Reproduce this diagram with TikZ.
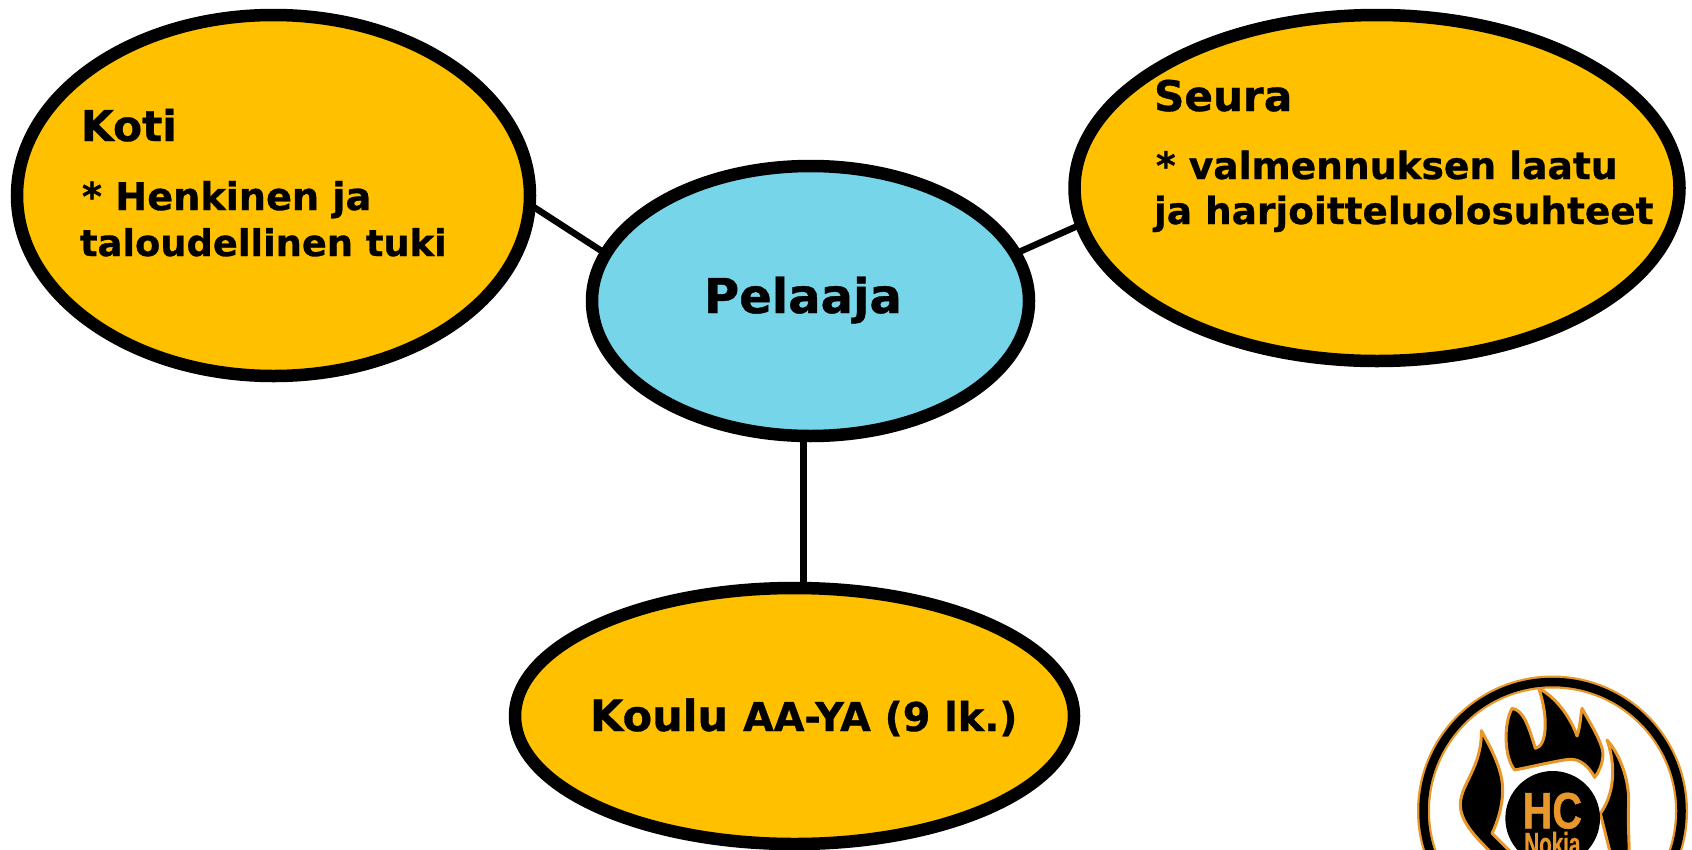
\documentclass[tikz,border=0pt]{standalone}
\usepackage{fontspec}
\usepackage{graphicx}
\setmainfont{DejaVu Sans}[BoldFeatures={FakeBold=0.8}]
\newfontfamily\logofont{Liberation Sans}[BoldFeatures={FakeBold=1}]
\usetikzlibrary{shapes.geometric}
\definecolor{gold}{HTML}{FFC000}
\definecolor{sky}{HTML}{77D5EA}
\definecolor{logoorange}{HTML}{E8982B}
\tikzset{
  bubble/.style={ellipse,draw=black,line width=12.5pt,inner sep=0pt,outer sep=0pt},
  goldbubble/.style={bubble,fill=gold},
  link/.style={draw=black,line width=6.5pt},
  txt/.style={anchor=base west,inner sep=0pt,outer sep=0pt,text=black},
  flame/.style={fill=black,draw=logoorange,line width=3pt,line join=round},
}
\begin{document}
\begin{tikzpicture}[x=1pt,y=-1pt]
\useasboundingbox (0,0) rectangle (1692,849);
\node[goldbubble,minimum width=513pt,minimum height=361pt] (koti) at (273.5,195.5) {};
\node[goldbubble,minimum width=605pt,minimum height=346pt] (seura) at (1377,188) {};
\node[goldbubble,minimum width=559pt,minimum height=256pt] (koulu) at (794.5,716) {};
\node[bubble,fill=sky,minimum width=437pt,minimum height=270pt] (pelaaja) at (810.5,301) {};
\draw[link] (koti.-2.7) -- (pelaaja.167.4);
\draw[link] (pelaaja.13.1) -- (seura.187.7);
\draw[link,line width=7.5pt] (pelaaja.-93.9) -- (pelaaja.-93.9 |- koulu.north);
\node[txt,font=\bfseries\fontsize{42.3}{42.3}\selectfont] (tkoti) at (81,141) {Koti};
\node[txt,font=\bfseries\fontsize{38.2}{38.2}\selectfont] (tkoti1) at (82,210) {* Henkinen ja};
\node[txt,font=\bfseries\fontsize{36.8}{36.8}\selectfont] (tkoti2) at (80,256) {taloudellinen tuki};
\node[txt,font=\bfseries\fontsize{42.2}{42.2}\selectfont] (tseura) at (1154,111) {Seura};
\node[txt,font=\bfseries\fontsize{37.6}{37.6}\selectfont] (tseura1) at (1156,179) {* valmennuksen laatu};
\node[txt,font=\bfseries\fontsize{37.4}{37.4}\selectfont] (tseura2) at (1154,224) {ja harjoitteluolosuhteet};
\node[txt,font=\bfseries\fontsize{48}{48}\selectfont] (tpel) at (704,313) {Pelaaja};
\node[txt,font=\bfseries\fontsize{43}{43}\selectfont] (tkoulu) at (590,731) {Koulu {\fontsize{39.7}{39.7}\selectfont AA-YA (9 lk.)}};
% logo
\begin{scope}
\clip (1392,660) rectangle (1692,849);
\node[circle,draw=logoorange,line width=13pt,inner sep=0pt,outer sep=0pt,minimum size=258pt] (ring) at (1552.5,811) {};
\node[circle,draw=black,line width=8.5pt,inner sep=0pt,outer sep=0pt,minimum size=258pt] (ringin) at (1552.5,811) {};
\begin{scope}[shift={(1392pt,-660pt)},x=0.33333pt,y=-0.33333pt]
\draw[flame] (368,330) .. controls (335,290) and (335,190) .. (360,145)
  .. controls (395,150) and (410,200) .. (430,265)
  .. controls (465,260) and (470,170) .. (440,85)
  .. controls (490,110) and (535,170) .. (555,228)
  .. controls (565,200) and (565,170) .. (570,145)
  .. controls (600,200) and (640,260) .. (632,295)
  .. controls (628,320) and (618,340) .. (608,352)
  .. controls (590,320) and (565,295) .. (530,298)
  .. controls (480,305) and (420,320) .. (368,330) -- cycle;
\draw[flame] (268,212) .. controls (300,270) and (332,330) .. (332,390)
  .. controls (332,440) and (315,490) .. (300,520)
  -- (370,590) -- (320,600)
  .. controls (260,540) and (203,490) .. (205,430)
  .. controls (208,370) and (270,320) .. (268,212) -- cycle;
\draw[flame] (645,240) .. controls (690,290) and (712,370) .. (710,430)
  .. controls (707,490) and (712,540) .. (712,600) -- (660,600)
  -- (625,460) .. controls (655,420) and (680,340) .. (645,240) -- cycle;
\fill[black] (482,475) circle (142);
\node[inner sep=0pt,text=logoorange,anchor=base] (hc) at (481,505) {\scalebox{1.37}[1.7]{\logofont\bfseries\fontsize{30}{30}\selectfont HC}};
\node[inner sep=0pt,text=logoorange,anchor=base] (nokia) at (481,585) {\scalebox{1.03}[1.6]{\logofont\bfseries\fontsize{20}{20}\selectfont Nokia}};
\end{scope}
\end{scope}
\end{tikzpicture}
\end{document}
